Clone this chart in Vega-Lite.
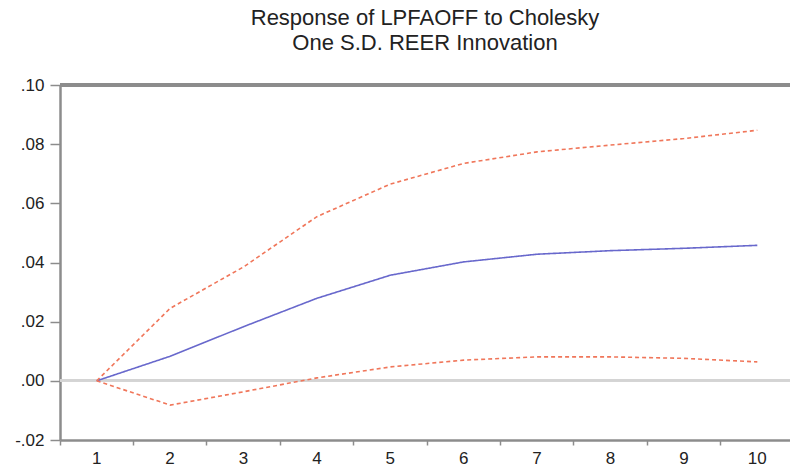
{
  "$schema": "https://vega.github.io/schema/vega-lite/v6.json",
  "width": 730,
  "height": 355,
  "autosize": {"type": "none"},
  "padding": {"left": 60, "top": 85, "right": 0, "bottom": 30},
  "background": "white",
  "config": {
    "view": {"stroke": null},
    "font": "Liberation Sans"
  },
  "title": {
    "text": ["Response of LPFAOFF to Cholesky", "One S.D. REER Innovation"],
    "font": "Liberation Sans",
    "fontSize": 22,
    "fontWeight": "normal",
    "color": "#222222",
    "anchor": "middle",
    "lineHeight": 25.5,
    "offset": 21
  },
  "data": {
    "values": [
      {"h": 1, "series": "Response", "value": 0.0},
      {"h": 2, "series": "Response", "value": 0.0083},
      {"h": 3, "series": "Response", "value": 0.0183},
      {"h": 4, "series": "Response", "value": 0.0279},
      {"h": 5, "series": "Response", "value": 0.0357},
      {"h": 6, "series": "Response", "value": 0.0402},
      {"h": 7, "series": "Response", "value": 0.0428},
      {"h": 8, "series": "Response", "value": 0.044},
      {"h": 9, "series": "Response", "value": 0.0448},
      {"h": 10, "series": "Response", "value": 0.0458},
      {"h": 1, "series": "Upper", "value": 0.0},
      {"h": 2, "series": "Upper", "value": 0.0245},
      {"h": 3, "series": "Upper", "value": 0.0385},
      {"h": 4, "series": "Upper", "value": 0.0555},
      {"h": 5, "series": "Upper", "value": 0.0665},
      {"h": 6, "series": "Upper", "value": 0.0735},
      {"h": 7, "series": "Upper", "value": 0.0774},
      {"h": 8, "series": "Upper", "value": 0.0797},
      {"h": 9, "series": "Upper", "value": 0.0819},
      {"h": 10, "series": "Upper", "value": 0.0847},
      {"h": 1, "series": "Lower", "value": 0.0},
      {"h": 2, "series": "Lower", "value": -0.0082},
      {"h": 3, "series": "Lower", "value": -0.0037},
      {"h": 4, "series": "Lower", "value": 0.001},
      {"h": 5, "series": "Lower", "value": 0.0047},
      {"h": 6, "series": "Lower", "value": 0.007},
      {"h": 7, "series": "Lower", "value": 0.0081},
      {"h": 8, "series": "Lower", "value": 0.0081},
      {"h": 9, "series": "Lower", "value": 0.0076},
      {"h": 10, "series": "Lower", "value": 0.0064}
    ]
  },
  "layer": [
    {
      "mark": {"type": "rule", "color": "#d4d4d4", "strokeWidth": 2},
      "encoding": {"y": {"datum": 0, "type": "quantitative", "scale": {"domain": [-0.02, 0.1], "nice": false, "zero": false}}}
    },
    {
      "mark": {"type": "rule", "color": "#8c8c8c", "strokeWidth": 2.5},
      "encoding": {"y": {"datum": 0.1, "type": "quantitative"}}
    },
    {
      "mark": {"type": "line", "strokeWidth": 1.6},
      "encoding": {
        "x": {
          "field": "h",
          "type": "ordinal",
          "bandPosition": 0.5,
          "scale": {"type": "band", "paddingInner": 0, "paddingOuter": 0, "range": [0, 734]},
          "axis": {
            "title": null,
            "labelAngle": 0,
            "bandPosition": 0,
            "labelFont": "Liberation Sans",
            "labelFontSize": 17,
            "labelColor": "#222222",
            "labelPadding": 5,
            "domainColor": "#8c8c8c",
            "domainWidth": 2.5,
            "tickColor": "#8c8c8c",
            "tickWidth": 1.5,
            "tickSize": 5,
            "grid": false
          }
        },
        "y": {
          "field": "value",
          "type": "quantitative",
          "scale": {"domain": [-0.02, 0.1], "nice": false, "zero": false},
          "axis": {
            "title": null,
            "values": [-0.02, 0, 0.02, 0.04, 0.06, 0.08, 0.1],
            "labelExpr": "datum.value < 0 ? '-' + replace(format(-datum.value, '.2f'), '0.', '.') : replace(format(datum.value, '.2f'), '0.', '.')",
            "labelFont": "Liberation Sans",
            "labelFontSize": 17,
            "labelColor": "#222222",
            "labelPadding": 6,
            "domainColor": "#8c8c8c",
            "domainWidth": 2.5,
            "tickColor": "#8c8c8c",
            "tickWidth": 1.5,
            "tickSize": 10,
            "grid": false
          }
        },
        "detail": {"field": "series"},
        "color": {
          "field": "series",
          "type": "nominal",
          "scale": {"domain": ["Response", "Upper", "Lower"], "range": ["#6868cc", "#f0765a", "#f0765a"]},
          "legend": null
        },
        "strokeDash": {
          "field": "series",
          "type": "nominal",
          "scale": {"domain": ["Response", "Upper", "Lower"], "range": [[1, 0], [4, 3], [4, 3]]},
          "legend": null
        }
      }
    }
  ]
}
